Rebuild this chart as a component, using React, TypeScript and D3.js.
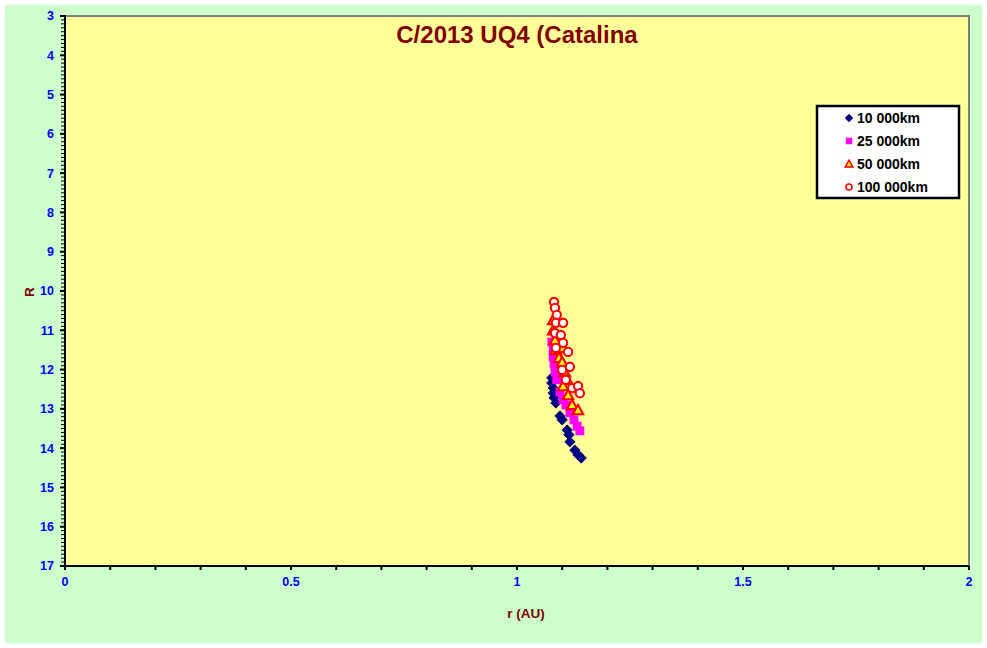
import React from "react";
import * as d3 from "d3";

// values
const seriesNames = ["10 000km", "25 000km", "50 000km", "100 000km"];

const r10k = [1.077, 1.077, 1.080, 1.080, 1.082, 1.086, 1.095, 1.100, 1.111, 1.115, 1.117, 1.128, 1.135, 1.142];
const R10k = [12.21, 12.34, 12.47, 12.60, 12.72, 12.85, 13.18, 13.28, 13.54, 13.66, 13.84, 14.05, 14.17, 14.25];

const r25k = [1.077, 1.080, 1.080, 1.082, 1.084, 1.088, 1.095, 1.102, 1.108, 1.117, 1.126, 1.133, 1.139];
const R25k = [11.30, 11.50, 11.68, 11.86, 12.06, 12.26, 12.57, 12.77, 12.90, 13.10, 13.28, 13.44, 13.56];

const r50k = [1.080, 1.080, 1.084, 1.086, 1.093, 1.102, 1.100, 1.106, 1.111, 1.102, 1.113, 1.122, 1.135];
const R50k = [10.74, 11.00, 11.25, 11.50, 11.70, 11.45, 11.81, 12.06, 12.26, 12.42, 12.65, 12.90, 13.03];

const r100k = [1.082, 1.084, 1.088, 1.086, 1.102, 1.084, 1.097, 1.102, 1.086, 1.113, 1.100, 1.117, 1.108, 1.122, 1.135, 1.139];
const R100k = [10.28, 10.43, 10.61, 10.81, 10.81, 11.07, 11.12, 11.32, 11.45, 11.55, 12.01, 11.93, 12.26, 12.47, 12.42, 12.60];

const xTicks = [0, 0.5, 1, 1.5, 2];
const yTicks = [3, 4, 5, 6, 7, 8, 9, 10, 11, 12, 13, 14, 15, 16, 17];

const width = 987;
const height = 648;
const plot = {left: 65, top: 16, right: 969, bottom: 566};

const font = "'Liberation Sans', Arial, sans-serif";

function Marker(props: {kind: number, x: number, y: number, s: number}) {
    const {kind, x, y, s} = props;
    if (kind === 0) {
        return <path d={`M${x},${y - s}L${x + s},${y}L${x},${y + s}L${x - s},${y}Z`} fill="#000080" stroke="#000080" strokeWidth={0.8}/>;
    }
    if (kind === 1) {
        return <rect x={x - s * 0.85} y={y - s * 0.85} width={s * 1.7} height={s * 1.7} fill="#ff00ff"/>;
    }
    if (kind === 2) {
        return <path d={`M${x},${y - s}L${x + s},${y + s * 0.8}L${x - s},${y + s * 0.8}Z`} fill="#ffff00" stroke="#ff0000" strokeWidth={s * 0.4}/>;
    }
    return <circle cx={x} cy={y} r={s * 0.8} fill="#ffffff" stroke="#ff0000" strokeWidth={s * 0.4}/>;
}

export default function App() {
    const xScale = d3.scaleLinear().domain([0, 2]).range([plot.left, plot.right]);
    const yScale = d3.scaleLinear().domain([3, 17]).range([plot.top, plot.bottom]);

    const series = [
        d3.zip(r10k, R10k),
        d3.zip(r25k, R25k),
        d3.zip(r50k, R50k),
        d3.zip(r100k, R100k),
    ];

    const xMinor = d3.range(0, 21).map(i => i / 10);
    const yMinor = d3.range(0, 141).map(i => 3 + i / 10);

    const legend = {x: 817, y: 106, w: 142, h: 92};

    return (
        <svg width={width} height={height} style={{position: "absolute", left: 0, top: 0, background: "white"}}>
            <rect x={5} y={5} width={977} height={638} fill="#ccffcc"/>
            {/* plot area with gray border */}
            <rect x={plot.left} y={plot.top} width={plot.right - plot.left} height={plot.bottom - plot.top}
                  fill="#ffff99" stroke="#808080" strokeWidth={2}/>

            {/* axes */}
            <line x1={plot.left} x2={plot.left} y1={plot.top - 1} y2={plot.bottom + 1} stroke="black" strokeWidth={2}/>
            <line x1={plot.left - 1} x2={plot.right} y1={plot.bottom} y2={plot.bottom} stroke="black" strokeWidth={2}/>
            {yMinor.map((v, i) => (
                <line key={"ym" + i} x1={plot.left - 4} x2={plot.left} y1={yScale(v)} y2={yScale(v)} stroke="black" strokeWidth={1}/>
            ))}
            {yTicks.map(v => (
                <line key={"yt" + v} x1={plot.left - 5} x2={plot.left} y1={yScale(v)} y2={yScale(v)} stroke="black" strokeWidth={2}/>
            ))}
            {xMinor.map((v, i) => (
                <line key={"xm" + i} x1={xScale(v)} x2={xScale(v)} y1={plot.bottom} y2={plot.bottom + 4} stroke="black" strokeWidth={2}/>
            ))}

            {yTicks.map(v => (
                <text key={"yl" + v} x={plot.left - 11} y={yScale(v)} dy="0.35em" textAnchor="end"
                      fontFamily={font} fontWeight="bold" fontSize={12.5} fill="#0000ff">{v}</text>
            ))}
            {xTicks.map(v => (
                <text key={"xl" + v} x={xScale(v)} y={plot.bottom + 20} textAnchor="middle"
                      fontFamily={font} fontWeight="bold" fontSize={12.5} fill="#0000ff">{v}</text>
            ))}

            <text x={517} y={43} textAnchor="middle" fontFamily={font} fontWeight="bold" fontSize={24} fill="#800000">C/2013 UQ4 (Catalina</text>
            <text x={526} y={618} textAnchor="middle" fontFamily={font} fontWeight="bold" fontSize={13.5} fill="#800000">r (AU)</text>
            <text transform={`translate(34,292) rotate(-90)`} textAnchor="middle" fontFamily={font} fontWeight="bold" fontSize={13.5} fill="#800000">R</text>

            {/* data */}
            {series.map((pts, k) => (
                <g key={"s" + k}>
                    {pts.map((p, i) => <Marker key={i} kind={k} x={xScale(p[0])} y={yScale(p[1])} s={5.2}/>)}
                </g>
            ))}

            {/* legend */}
            <rect x={legend.x} y={legend.y} width={legend.w} height={legend.h} fill="white" stroke="black" strokeWidth={2.5}/>
            {seriesNames.map((name, i) => {
                const y = legend.y + 12 + i * 23;
                return (
                    <g key={"lg" + i}>
                        <Marker kind={i} x={849} y={y} s={3.8}/>
                        <text x={857} y={y} dy="0.36em" fontFamily={font} fontWeight="bold" fontSize={14} fill="black">{name}</text>
                    </g>
                );
            })}
        </svg>
    );
}
